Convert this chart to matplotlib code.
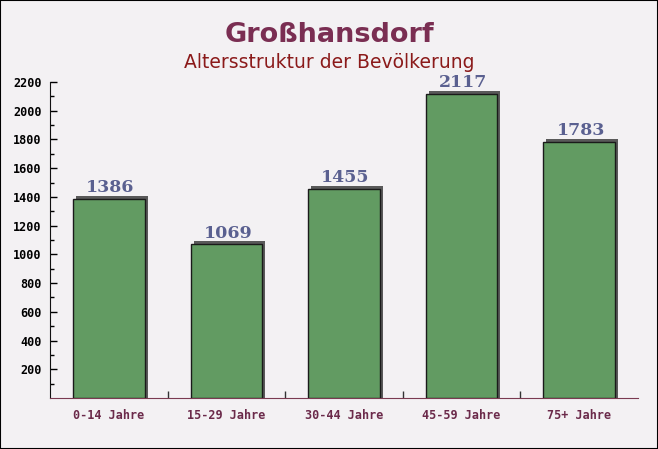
import numpy as np
import matplotlib.pyplot as plt
import matplotlib.transforms as mtransforms

categories = ['0-14 Jahre', '15-29 Jahre', '30-44 Jahre', '45-59 Jahre', '75+ Jahre']
values = [1386, 1069, 1455, 2117, 1783]
y_ticks = [200, 400, 600, 800, 1000, 1200, 1400, 1600, 1800, 2000, 2200]

bg = '#f3f1f3'
bar_color = '#629b62'
shadow_color = '#595959'

fig = plt.figure(figsize=(6.58, 4.49), dpi=100, facecolor=bg)
ax_h_px = 398 - 82
ax = fig.add_axes([50 / 658, 1 - 398 / 449, 588 / 658, ax_h_px / 449])
ax.set_facecolor('none')

x = np.arange(len(categories))
w = 0.61
ymax = 2200
px = ymax / ax_h_px  # data units per pixel

# shadow, shifted a few pixels up and right, reaching down to the axis
shift = mtransforms.offset_copy(ax.transData, fig=fig, x=3, y=3, units='dots')
ax.bar(x, np.array(values) + 3 * px, bottom=-3 * px, width=w, color=shadow_color,
       transform=shift, zorder=2, clip_on=True)
ax.bar(x, values, width=w, color=bar_color, edgecolor='#1a1a1a', linewidth=1, zorder=3)

for xi, v in zip(x, values):
    ax.annotate(str(v), (xi, v), xytext=(1, 2), textcoords='offset points',
                ha='center', va='bottom', fontsize=12.5, fontweight='bold',
                family='DejaVu Serif', color='#5a6090', zorder=4)

ax.set_xlim(-0.5, len(categories) - 0.5)
ax.set_ylim(0, ymax)

ax.set_yticks(y_ticks)
ax.set_yticks(np.arange(100, 2200, 100), minor=True)
ax.set_xticks(x)
ax.set_xticklabels(categories)
ax.set_xticks(np.arange(0.5, len(categories) - 0.5, 1), minor=True)

ax.tick_params(axis='y', which='major', direction='in', length=5, width=1, labelsize=8.5, pad=6)
ax.tick_params(axis='y', which='minor', direction='in', length=3, width=1)
ax.tick_params(axis='x', which='major', length=0, labelsize=8.5, pad=8, labelcolor='#6b2a4a')
ax.tick_params(axis='x', which='minor', direction='in', length=5, width=1, color='#333333')

for lab in ax.get_yticklabels() + ax.get_xticklabels():
    lab.set_family('DejaVu Sans Mono')
    lab.set_fontweight('bold')

for s in ['top', 'right']:
    ax.spines[s].set_visible(False)
ax.spines['left'].set_color('#111111')
ax.spines['bottom'].set_color('#7a3a50')

fig.text(0.5, 1 - 42 / 449, 'Großhansdorf', ha='center', va='baseline',
         fontsize=19.5, fontweight='bold', color='#7a2e52')
fig.text(0.5, 1 - 68 / 449, 'Altersstruktur der Bevölkerung', ha='center', va='baseline',
         fontsize=13.5, color='#8b1a1a')

fig.patches.append(plt.Rectangle((0, 0), 1, 1, transform=fig.transFigure,
                                 fill=False, edgecolor='black', linewidth=1.5))

plt.savefig('out.png', dpi=100, facecolor=bg)
